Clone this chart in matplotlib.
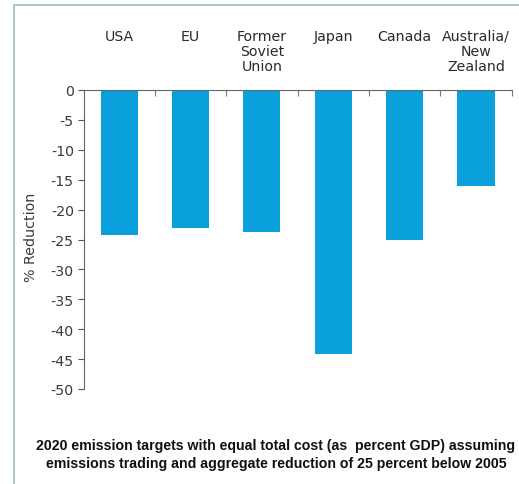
import numpy as np
import matplotlib
matplotlib.use("Agg")
from matplotlib import pyplot as plt
from matplotlib.patches import Rectangle

regions = ["USA", "EU", "Former\nSoviet\nUnion", "Japan", "Canada", "Australia/\nNew\nZealand"]
reduction = [-24.3, -23.0, -23.8, -44.1, -25.0, -16.0]
yticks = [0, -5, -10, -15, -20, -25, -30, -35, -40, -45, -50]
caption = ["2020 emission targets with equal total cost (as  percent GDP) assuming",
           "emissions trading and aggregate reduction of 25 percent below 2005"]

W, H = 519, 485
plt.rcParams['font.family'] = ['DejaVu Sans']

fig = plt.figure(figsize=(W / 100, H / 100), dpi=100)
fig.patch.set_facecolor('white')

# frame around the graphic
fig.patches.append(Rectangle((14 / W, -0.1), 1.2, 1 - 6 / H + 0.1, transform=fig.transFigure,
                             fill=False, edgecolor='#a7c4c2', linewidth=1.3))

ax = fig.add_axes([83.5 / W, 1 - 390 / H, (511.7 - 83.5) / W, (390 - 91) / H])
x = np.arange(len(regions))
ax.bar(x, reduction, width=0.52, color='#0aa0dc')

ax.set_xlim(-0.5, len(regions) - 0.5)
ax.set_ylim(-50, 0)
ax.set_yticks(yticks)
ax.set_yticklabels([str(v) for v in yticks], fontsize=10.2)
ax.tick_params(axis='y', direction='out', length=4, width=0.8, pad=3, colors='#555555',
               labelcolor='#3a3a3a')

ax.xaxis.tick_top()
ax.set_xticks(np.arange(len(regions)) + 0.5)
ax.set_xticklabels([])
ax.tick_params(axis='x', direction='in', length=4, width=0.8, colors='#777777')

for s in ['right', 'bottom']:
    ax.spines[s].set_visible(False)
for s in ['left', 'top']:
    ax.spines[s].set_color('#666666')
    ax.spines[s].set_linewidth(0.8)

ax.set_ylabel('% Reduction', fontsize=10.3, color='#3a3a3a')
ax.yaxis.set_label_coords((38 - 83.5) / (511.7 - 83.5), 0.51)

for i, name in enumerate(regions):
    ax.annotate(name, xy=(i, 1 - 30 / H), xycoords=('data', 'figure fraction'),
                ha='center', va='top', fontsize=10.2, color='#2a2a2a', linespacing=1.08)

for line, ypix in zip(caption, [446, 464]):
    fig.text(276 / W, 1 - ypix / H, line, ha='center', va='center', fontsize=10.2,
             fontweight='bold', color='#111111', family=['Liberation Sans', 'DejaVu Sans'])

fig.savefig('out.png', dpi=100)
